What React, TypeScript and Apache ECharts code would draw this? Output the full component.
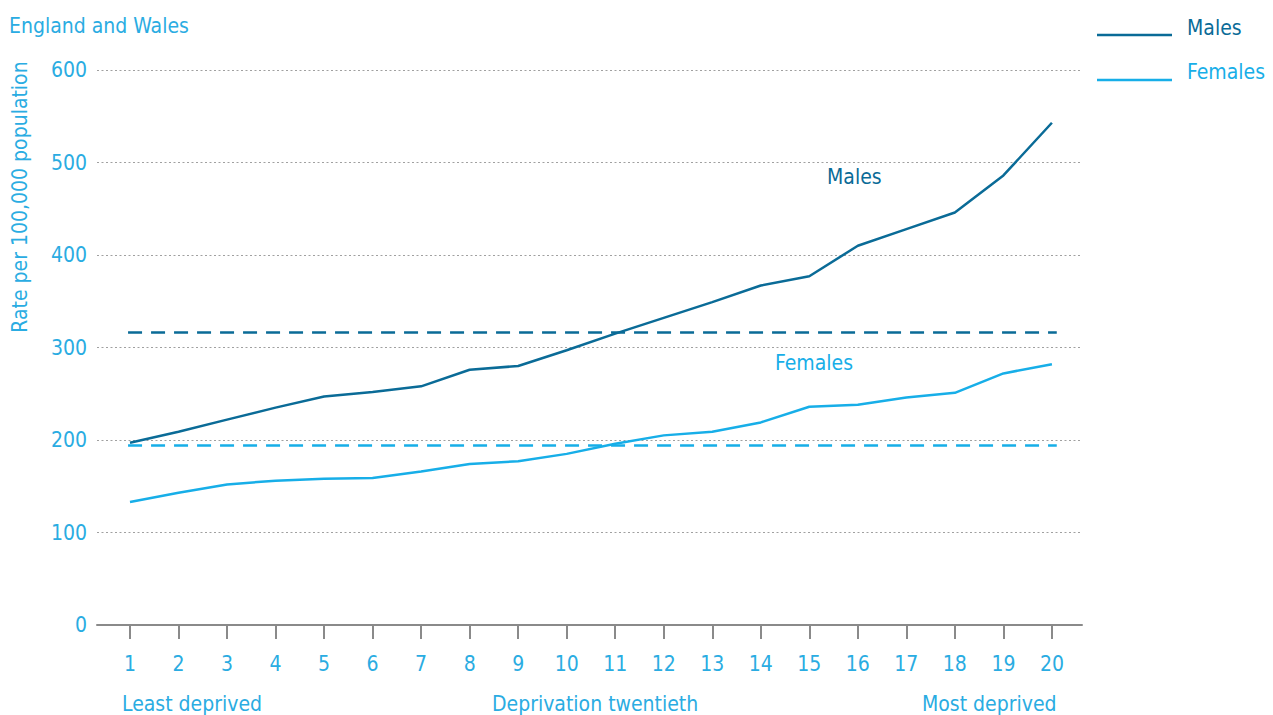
import React, { useEffect, useRef } from "react";
import * as echarts from "echarts";

const categories = [1, 2, 3, 4, 5, 6, 7, 8, 9, 10, 11, 12, 13, 14, 15, 16, 17, 18, 19, 20];
const males = [197, 209, 222, 235, 247, 252, 258, 276, 280, 297, 315, 332, 349, 367, 377, 410, 428, 446, 486, 543];
const females = [133, 143, 152, 156, 158, 159, 166, 174, 177, 185, 196, 205, 209, 219, 236, 238, 246, 251, 272, 282];
const maleAverage = 316;
const femaleAverage = 194;

const DARK = "#0a6b97";
const LIGHT = "#17aee8";
const TEXT = "#2aace2";
const FONT = "'Liberation Sans Narrow', 'DejaVu Sans Condensed', Arial, sans-serif";
const FS = 21;

export default function App() {
  const ref = useRef<HTMLDivElement>(null);
  useEffect(() => {
    if (!ref.current) return;
    const chart = echarts.init(ref.current, null, { renderer: "svg" });
    const pairs = (arr: number[]) => categories.map((c, i) => [c, arr[i]]);
    const txt = (x: number, y: number, text: string, fill: string, extra: any = {}) => ({
      type: "text",
      x,
      y,
      ...extra,
      style: { text, fill, font: `${FS}px ${FONT}`, textVerticalAlign: "middle", ...(extra.style || {}) },
    });
    chart.setOption({
      animation: false,
      textStyle: { fontFamily: FONT },
      grid: { left: 97, right: 191, top: 70, bottom: 90, containLabel: false, outerBoundsMode: "none" },
      xAxis: {
        type: "value",
        min: 0.32,
        max: 20.62,
        axisLine: { show: true, lineStyle: { color: "#8a8a8a", width: 2 } },
        axisTick: {
          show: true,
          customValues: categories,
          length: 14,
          lineStyle: { color: "#8a8a8a", width: 2 },
        },
        axisLabel: {
          customValues: categories,
          color: TEXT,
          fontSize: FS,
          fontFamily: FONT,
          margin: 28,
        },
        splitLine: { show: false },
      },
      yAxis: {
        type: "value",
        min: 0,
        max: 600,
        interval: 100,
        axisLine: { show: false },
        axisTick: { show: false },
        axisLabel: { color: TEXT, fontSize: FS, fontFamily: FONT, margin: 10 },
        splitLine: { show: true, lineStyle: { type: [2, 2.5], color: "#a0a0a0", width: 1 } },
      },
      series: [
        {
          name: "Males",
          type: "line",
          data: pairs(males),
          symbol: "none",
          lineStyle: { color: DARK, width: 2.5 },
          itemStyle: { color: DARK },
          markLine: {
            symbol: "none",
            silent: true,
            label: { show: false },
            lineStyle: { color: DARK, type: [14, 9], width: 2.5 },
            data: [[{ coord: [0.96, maleAverage] }, { coord: [20.1, maleAverage] }]],
          },
        },
        {
          name: "Females",
          type: "line",
          data: pairs(females),
          symbol: "none",
          lineStyle: { color: LIGHT, width: 2.5 },
          itemStyle: { color: LIGHT },
          markLine: {
            symbol: "none",
            silent: true,
            label: { show: false },
            lineStyle: { color: LIGHT, type: [14, 9], width: 2.5 },
            data: [[{ coord: [0.96, femaleAverage] }, { coord: [20.1, femaleAverage] }]],
          },
        },
      ],
      graphic: [
        txt(9, 26, "England and Wales", TEXT),
        txt(20, 197, "Rate per 100,000 population", TEXT, {
          rotation: Math.PI / 2,
          style: { textAlign: "center" },
        }),
        { type: "line", shape: { x1: 1097, y1: 35, x2: 1172, y2: 35 }, style: { stroke: DARK, lineWidth: 2.5 } },
        txt(1187, 28, "Males", DARK),
        { type: "line", shape: { x1: 1097, y1: 80, x2: 1172, y2: 80 }, style: { stroke: LIGHT, lineWidth: 2.5 } },
        txt(1187, 72, "Females", LIGHT),
        txt(827, 177, "Males", DARK),
        txt(775, 363, "Females", LIGHT),
        txt(122, 704, "Least deprived", TEXT),
        txt(492, 704, "Deprivation twentieth", TEXT),
        txt(922, 704, "Most deprived", TEXT),
      ],
    });
    return () => chart.dispose();
  }, []);
  return <div ref={ref} style={{ position: "absolute", left: 0, top: 0, width: 1273, height: 715 }} />;
}
